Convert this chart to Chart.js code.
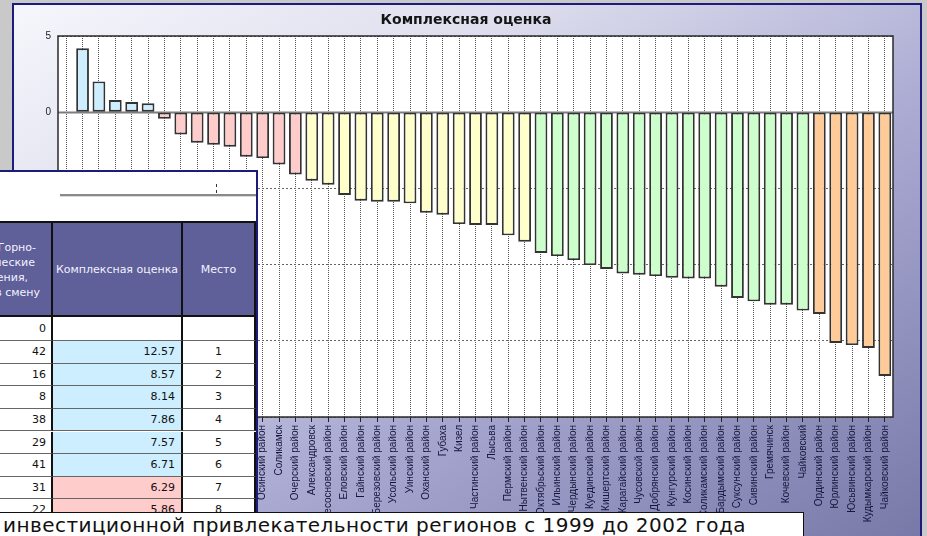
<!DOCTYPE html>
<html lang="ru">
<head>
<meta charset="utf-8">
<script src="https://cdn.jsdelivr.net/npm/chart.js@4"></script>
<style>
  html, body { margin: 0; padding: 0; }
  body { width: 927px; height: 536px; position: relative; overflow: hidden; background: #c9c9c9; font-family: "DejaVu Sans", sans-serif; }
  #panel { position: absolute; left: 12px; top: 3px; width: 906px; height: 540px; border: 2px solid #1c1c7c;
           background: linear-gradient(to bottom right, #f6f6fc 0%, #dedeee 28%, #a9a9d2 60%, #7878a8 100%); }
  #chartBox { position: absolute; left: 0; top: 0; width: 927px; height: 536px; }
  #title { position: absolute; left: 366px; width: 200px; top: 11px; text-align: center; font: bold 14px "DejaVu Sans", sans-serif; color: #141414; }
  #tbl { position: absolute; left: 0; top: 170px; width: 256px; height: 360px; background: #fff;
         border-top: 2px solid #1c1c78; border-right: 2px solid #1c1c78; overflow: hidden; }
  #tbl .mark { position: absolute; left: 216px; top: 12px; width: 0; height: 9px; border-left: 1px dashed #333; }
  #tbl .sep { position: absolute; left: 60px; right: 0; top: 22px; height: 2px; background: #8a8a8a; border-bottom: 1px solid #d8d8d8; }
  #tbl .cell { position: absolute; box-sizing: border-box; font-size: 11px; color: #111; white-space: nowrap; }
  #tbl .head { background: #5f5f99; color: #f2f2ff; display: flex; align-items: center; justify-content: center; text-align: center; line-height: 15px; }
  #tbl .head.first { display: block; text-align: right; padding-top: 17px; }
  #tbl .head.first span { display: block; }
  #caption { position: absolute; left: -1px; top: 512px; width: 800px; height: 30px; background: #fff; border: 1px solid #111;
             font: 20px "DejaVu Sans", sans-serif; line-height: 24px; padding-left: 3px; color: #111; white-space: nowrap; letter-spacing: 0.45px; }
</style>
</head>
<body>
<div id="panel"></div>
<div id="chartBox"><canvas id="chart" width="927" height="536"></canvas></div>
<div id="title">Комплексная оценка</div>
<div id="tbl"><div class="mark"></div><div class="sep"></div></div>
<div id="caption">инвестиционной привлекательности регионов с 1999 до 2002 года</div>
<script>
const categories = [
  'Пермская область', 'г. Пермь', 'Березники', 'Краснокамск', 'Кунгур', 'Чусовой', 'Кудымкар',
  'Верещагинский район', 'Горнозаводский район', 'Краснокамский район', 'Красновишерский район', 'Чернушинский район',
  'Осинский район', 'Соликамск', 'Очерский район', 'Александровск', 'Большесосновский район', 'Еловский район',
  'Гайнский район', 'Березовский район', 'Усольский район', 'Уинский район', 'Оханский район', 'Губаха', 'Кизел',
  'Частинский район', 'Лысьва', 'Пермский район', 'Нытвенский район', 'Октябрьский район', 'Ильинский район',
  'Чердынский район', 'Куединский район', 'Кишертский район', 'Карагайский район', 'Чусовской район',
  'Добрянский район', 'Кунгурский район', 'Косинский район', 'Соликамский район', 'Бардымский район',
  'Суксунский район', 'Сивинский район', 'Гремячинск', 'Кочевский район', 'Чайковский', 'Ординский район',
  'Юрлинский район', 'Юсьвинский район', 'Кудымкарский район', 'Чайковский район'
];
const scores = [
  null, 4.19, 2.02, 0.80, 0.67, 0.58,
  -0.43, -1.46, -2.00, -2.13, -2.26, -2.92, -3.01, -3.43, -4.08,
  -4.49, -4.76, -5.43, -5.81, -5.87, -5.87, -5.98, -6.59, -6.73, -7.34, -7.40, -7.40, -8.08, -8.50,
  -9.24, -9.44, -9.70, -10.03, -10.29, -10.58, -10.66, -10.75, -10.86, -10.91, -10.91, -11.45,
  -12.19, -12.41, -12.63, -12.63, -13.02,
  -13.24, -15.14, -15.28, -15.47, -17.31
];
// how many bars fall in each colour group, left to right
const groupSizes = [5, 9, 14, 17, 5];
const groupColors = ['#cdeefe', '#ffcccc', '#ffffcc', '#ccffcc', '#ffcc99'];
const yTicks = [5, 0, -5, -10, -15, -20];

// table window
const tableHeadFirst = ['Горно-', 'технические', 'сооружения,', 'чел. в смену'];
const tableHeadFirstRight = [15, 16, 23, 11];
const tableHead = ['Комплексная оценка', 'Место'];
const tableCol1 = ['0', '42', '16', '8', '38', '29', '41', '31', '22'];
const tableScore = ['', '12.57', '8.57', '8.14', '7.86', '7.57', '6.71', '6.29', '5.86'];
const tablePlace = ['', '1', '2', '3', '4', '5', '6', '7', '8'];
const tableGroup = [-1, 0, 0, 0, 0, 0, 0, 1, 1];

const barColors = [null];
groupSizes.forEach((n, g) => { for (let i = 0; i < n; i++) barColors.push(groupColors[g]); });

function buildTable() {
  const tbl = document.getElementById('tbl');
  const cols = [[-60, 53], [53, 183], [183, 256]];
  const headTop = 49, headH = 96, rowH = 22.6;
  const add = (x0, x1, y, h, cls, html, style) => {
    const d = document.createElement('div');
    d.className = 'cell ' + cls;
    d.style.cssText = `left:${x0}px;width:${x1 - x0}px;top:${y}px;height:${h}px;` + (style || '');
    d.innerHTML = html;
    tbl.appendChild(d);
  };
  const headBorder = 'border-right:2px solid #111;border-top:2px solid #111;border-bottom:2px solid #111;';
  add(cols[0][0], cols[0][1], headTop, headH, 'head first',
    tableHeadFirst.map((t, i) => `<span style="margin-right:${tableHeadFirstRight[i]}px">${t}</span>`).join(''), headBorder);
  tableHead.forEach((t, i) => add(cols[i + 1][0], cols[i + 1][1], headTop, headH, 'head', t, headBorder));
  tableCol1.forEach((v, r) => {
    const y = headTop + headH + r * rowH + (r ? 1.5 : 0);
    const h = r ? rowH : rowH + 1.5;
    const line = `line-height:${h}px;border-bottom:1.5px solid #666;border-right:2px solid #111;`;
    add(cols[0][0], cols[0][1], y, h, '', v, line + 'text-align:right;padding-right:5px;');
    const bg = tableGroup[r] >= 0 ? groupColors[tableGroup[r]] : '#fff';
    add(cols[1][0], cols[1][1], y, h, '', tableScore[r], line + `text-align:right;padding-right:6px;background:${bg};`);
    add(cols[2][0], cols[2][1], y, h, '', tablePlace[r], line + 'text-align:center;');
  });
}
buildTable();

const framePlugin = {
  id: 'frame',
  beforeDraw(chart) {
    const { ctx, chartArea: a } = chart;
    ctx.save();
    ctx.fillStyle = '#ffffff';
    ctx.fillRect(a.left, a.top, a.right - a.left, a.bottom - a.top);
    ctx.restore();
  },
  beforeDatasetsDraw(chart) {
    const { ctx, chartArea: a, scales } = chart;
    const y0 = Math.round(scales.y.getPixelForValue(0)) + 0.5;
    ctx.save();
    ctx.strokeStyle = '#7d7d7d';
    ctx.lineWidth = 2;
    ctx.beginPath(); ctx.moveTo(a.left, y0); ctx.lineTo(a.right, y0); ctx.stroke();
    ctx.restore();
  },
  afterDraw(chart) {
    const { ctx, chartArea: a } = chart;
    ctx.save();
    ctx.strokeStyle = '#2a2a2a';
    ctx.lineWidth = 1.5;
    ctx.strokeRect(a.left, a.top, a.right - a.left, a.bottom - a.top);
    ctx.restore();
  }
};

new Chart(document.getElementById('chart'), {
  type: 'bar',
  data: {
    labels: categories,
    datasets: [{
      data: scores,
      backgroundColor: barColors,
      borderColor: '#333333',
      borderWidth: 1.9,
      borderSkipped: false,
      barPercentage: 0.78,
      categoryPercentage: 1
    }]
  },
  options: {
    responsive: false,
    animation: false,
    layout: { padding: { top: 36, right: 34, left: 0, bottom: 0 } },
    plugins: { legend: { display: false }, tooltip: { enabled: false }, title: { display: false } },
    scales: {
      x: {
        offset: true,
        grid: { offset: false, color: '#555', lineWidth: 1, drawTicks: true, tickLength: 5, tickColor: '#222', tickWidth: 1 },
        border: { display: false, dash: [1, 1] },
        ticks: { autoSkip: false, minRotation: 90, maxRotation: 90, padding: 3, color: '#15153c',
                 font: { family: 'Liberation Sans', size: 10 } },
        afterFit(scale) { scale.height = 119; }
      },
      y: {
        min: -20, max: 5,
        afterBuildTicks(scale) { scale.ticks = yTicks.map(v => ({ value: v })); },
        grid: { color: '#666', lineWidth: 1, drawTicks: false },
        border: { display: false, dash: [2, 2] },
        ticks: { padding: 7, color: '#222', font: { family: 'Liberation Sans', size: 10 } },
        afterFit(scale) { scale.width = 58; }
      }
    }
  },
  plugins: [framePlugin]
});
</script>
</body>
</html>
